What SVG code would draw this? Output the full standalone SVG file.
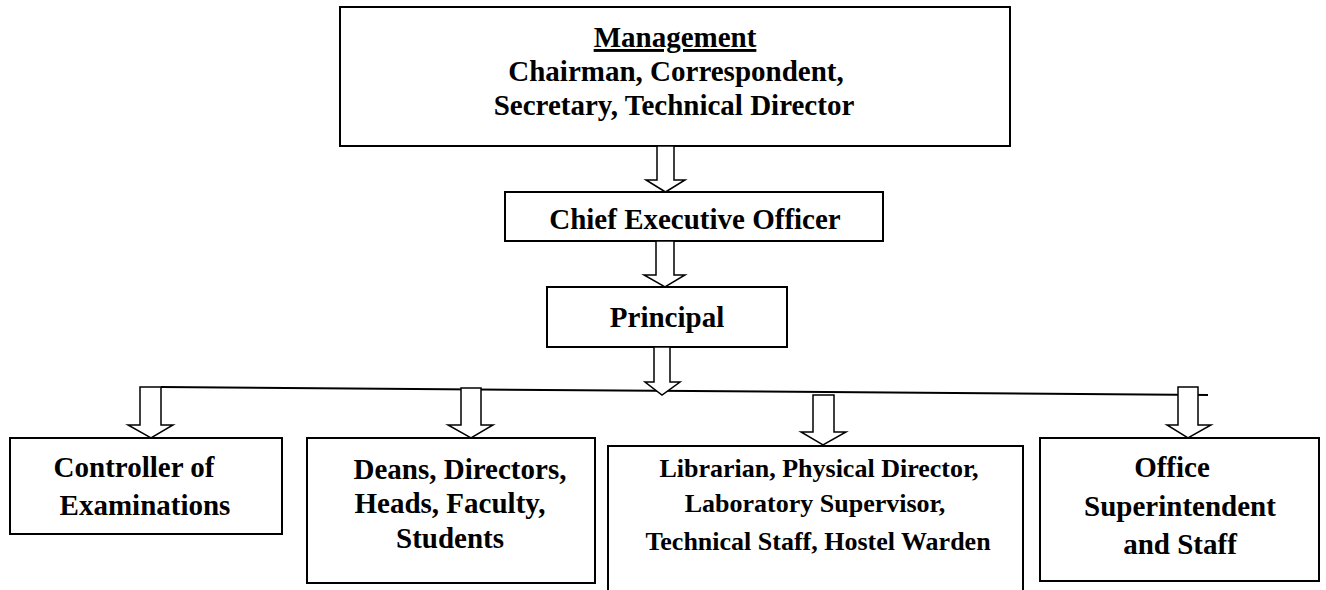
<svg xmlns="http://www.w3.org/2000/svg" width="1326" height="590" viewBox="0 0 1326 590">
<style>
.box{fill:#fff;stroke:#000;stroke-width:2}
.arr{fill:#fff;stroke:#000;stroke-width:1.5;stroke-linejoin:miter}
.ln{fill:none;stroke:#000;stroke-width:2}
text{font-family:"Liberation Serif","Times New Roman",serif;font-weight:bold;font-size:29px;fill:#000;text-anchor:middle}
.sm{font-size:26px}
</style>
<rect width="1326" height="590" fill="#fff"/>
<g id="management">
<rect class="box" x="340" y="7" width="670" height="139"/>
<text x="675" y="47" text-decoration="underline">Management</text>
<text x="676" y="81">Chairman, Correspondent,</text>
<text x="674" y="115">Secretary, Technical Director</text>
</g>
<g id="ceo">
<rect class="box" x="505" y="192" width="378" height="49"/>
<text x="695" y="229">Chief Executive Officer</text>
</g>
<g id="principal">
<rect class="box" x="547" y="287" width="240" height="60"/>
<text x="667" y="327">Principal</text>
</g>
<g id="controller">
<rect class="box" x="10" y="438" width="272" height="96"/>
<text x="134" y="477">Controller of</text>
<text x="145" y="515">Examinations</text>
</g>
<g id="deans">
<rect class="box" x="307" y="438" width="288" height="145"/>
<text x="460" y="479">Deans, Directors,</text>
<text x="450" y="513">Heads, Faculty,</text>
<text x="450" y="548">Students</text>
</g>
<g id="librarian">
<path class="ln" d="M608,592 V446 H1023 V592"/>
<text class="sm" x="819" y="477">Librarian, Physical Director,</text>
<text class="sm" x="815" y="512">Laboratory Supervisor,</text>
<text class="sm" x="818" y="550">Technical Staff, Hostel Warden</text>
</g>
<g id="office">
<rect class="box" x="1040" y="438" width="279" height="143"/>
<text x="1172" y="477">Office</text>
<text x="1180" y="516">Superintendent</text>
<text x="1180" y="554">and Staff</text>
</g>
<g id="connectors">
<path class="arr" d="M657,146 V180 H646 L665.5,192 L685,180 H674 V146 Z"/>
<path class="arr" d="M656,241 V275 H644 L665,287 L685,275 H674 V241 Z"/>
<path class="ln" d="M161,387 L1208,395"/>
<path class="arr" d="M654,347 V382 H645 L662,395 L680,382 H670 V347 Z"/>
<path class="arr" d="M140,387 V425 H128 L151,438 L173,425 H161 V387 Z"/>
<path class="arr" d="M461,388 V425 H448 L471,438 L493,425 H481 V388 Z"/>
<path class="arr" d="M813,395 V432 H801 L823,445 L846,432 H834 V395 Z"/>
<path class="arr" d="M1178,387 V425 H1167 L1188,438 L1211,425 H1198 V387 Z"/>
</g>
</svg>
